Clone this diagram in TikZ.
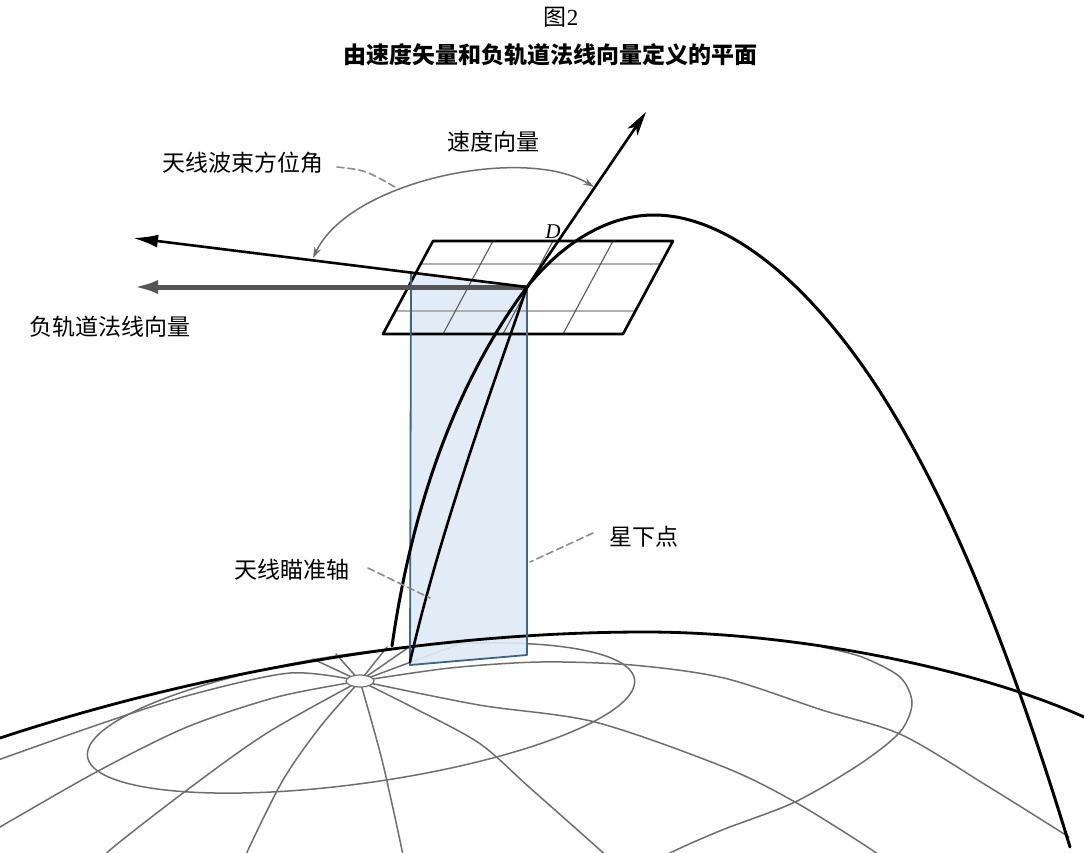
\documentclass[tikz,border=0pt]{standalone}
\usepackage{fontspec}
\setmainfont{Liberation Serif}
\newfontfamily\cjk{Noto Sans CJK SC}
\usetikzlibrary{arrows.meta,calc}
\definecolor{planefill}{RGB}{222,234,246}
\definecolor{planeedge}{RGB}{62,100,140}
\definecolor{gridgray}{RGB}{175,175,175}
\definecolor{gridline}{RGB}{90,90,90}
\definecolor{globegray}{RGB}{110,110,110}
\definecolor{normalgray}{RGB}{85,85,85}
\definecolor{leadergray}{RGB}{140,140,140}
\tikzset{
  globeline/.style={globegray, line width=1.5pt},
  horizonline/.style={black, line width=2.8pt},
  orbitline/.style={black, line width=3pt},
  platerow/.style={gridgray, line width=2pt},
  platecol/.style={gridline, line width=1.1pt},
  plateedge/.style={black, line width=2.6pt},
  vecline/.style={black, line width=2.6pt},
  leaderline/.style={leadergray, line width=1.6pt, dash pattern=on 7pt off 4pt},
  anglearc/.style={globegray, line width=1.5pt, {Stealth[length=11pt,width=7pt]}-{Stealth[length=11pt,width=7pt]}},
  lbl/.style={font=\cjk\fontsize{23}{23}\selectfont, inner sep=0pt}
}
\begin{document}
\begin{tikzpicture}[x=1pt,y=-1pt,line join=round,line cap=round]
\useasboundingbox (0,0) rectangle (1084,852);
\coordinate (S) at (527,287);
\coordinate (P) at (360,681);
\begin{scope}
\clip (0,0) rectangle (1084,852);
% globe: meridians
\draw[globeline] plot[smooth] coordinates {(360,681) (277,697) (187,727) (100,770) (12,820) (-10,833)};
\draw[globeline] plot[smooth] coordinates {(360,681) (267,733) (187,790) (110,850) (104,862)};
\draw[globeline] plot[smooth] coordinates {(360,681) (320,727) (283,780) (248,850) (244,862)};
\draw[globeline] plot[smooth] coordinates {(360,681) (382,760) (402,850) (404,862)};
\draw[globeline] plot[smooth] coordinates {(360,681) (412,707) (479,743) (529,787) (600,850) (612,862)};
\draw[globeline] plot[smooth] coordinates {(360,681) (479,705) (595,722) (724,767) (795,802) (872,850) (884,862)};
\draw[globeline] plot[smooth] coordinates {(360,681) (450,668) (540,662) (632,665) (724,678) (822,710) (902,735) (989,787) (1069,837)};
\draw[globeline] plot[smooth] coordinates {(360,681) (290,673) (190,695) (100,724) (12,755) (-10,763)};
\foreach \ex/\ey in {313/659, 336/654, 387/647, 412/645, 470/640}
  \draw[globeline] (P) -- (\ex,\ey);
% latitude circles
\draw[globeline] plot[domain=0:360, samples=120, smooth]
  ({361+276*cos(\x)*0.991-65*sin(\x)*0.14},{718-276*cos(\x)*0.14-65*sin(\x)*0.991});
\draw[globeline] plot[smooth] coordinates {(822,647) (862,657) (900,677) (912,703) (900,732) (860,764) (795,802) (722,830) (672,852) (640,870)};
% pole
\draw[globegray, line width=1.2pt, fill=white] (P) ellipse [x radius=14, y radius=6];
\end{scope}
% plate background
\coordinate (TL) at (433,241);
\coordinate (TR) at (673,241);
\coordinate (BR) at (623,334);
\coordinate (BL) at (383,334);
\fill[white] (TL) -- (TR) -- (BR) -- (BL) -- cycle;
% plane of velocity / normal
\coordinate (PA) at (411,272);
\coordinate (PB) at (527,655);
\coordinate (PC) at (410,665);
\fill[planefill, fill opacity=0.9] (PA) -- (S) -- (PB) -- (PC) -- cycle;
% plate grid
\foreach \t in {0.25,0.75}
  \draw[platerow] ($(TL)!\t!(BL)$) -- ($(TR)!\t!(BR)$);
\foreach \t in {0.25,0.5,0.75}
  \draw[platecol] ($(TL)!\t!(TR)$) -- ($(BL)!\t!(BR)$);
\draw[plateedge] (TL) -- (TR) -- (BR) -- (BL) -- cycle;
% horizon
\coordinate (H0) at (0,738);
\coordinate (HM) at (645,632);
\coordinate (H1) at (1084,717);
\begin{scope}
\clip (0,0) rectangle (1084,852);
\draw[horizonline] ($(H0)+(-20,7)$) -- (H0) .. controls (200,672) and (430,632) .. (HM)
  .. controls (800,632) and (980,670) .. (H1) -- ++(20,10);
\end{scope}
% plane edges
\draw[planeedge, line width=1.8pt] (PA) -- (PC) -- (PB) -- (S);
% negative orbit normal
\coordinate (N) at (133,287);
\draw[normalgray, line width=5pt, line cap=butt, -{Latex[length=25pt,width=14pt]}] (S) -- (N);
% beam direction
\coordinate (B) at (133,238);
\draw[vecline, line cap=butt, -{Latex[length=25pt,width=13pt]}] (S) -- (B);
% velocity
\coordinate (V) at (646,112);
\draw[vecline, line cap=butt, -{Stealth[length=24pt,width=12pt,inset=6pt]}] (S) -- (V);
% orbit
\coordinate (G1) at (392,646);
\coordinate (Top) at (654,215);
\coordinate (R1) at (877,387);
\coordinate (G2) at (1070,847);
\draw[orbitline] (G1) .. controls (410,520) and (450,390) .. (S)
  .. controls (565,240) and (610,215) .. (Top)
  .. controls (720,215) and (800,270) .. (R1)
  .. controls (950,500) and (1010,650) .. (G2);
% boresight
\coordinate (BS) at (410,662);
\draw[vecline] (S) .. controls (495,380) and (440,530) .. (BS);
% azimuth angle arc
\coordinate (A1) at (313,258);
\coordinate (A2) at (594,187);
\draw[anglearc] (A1) .. controls (350,180) and (525,145) .. (A2);
% labels
\node[font=\fontsize{23}{23}\selectfont, inner sep=0pt] (fig) at (561,17) {{\cjk 图}2};
\node[lbl, font=\cjk\bfseries\fontsize{23}{23}\selectfont] (title) at (550,55) {由速度矢量和负轨道法线向量定义的平面};
\node[lbl] (vel) at (493,142) {速度向量};
\node[lbl] (az) at (243,163) {天线波束方位角};
\node[lbl] (neg) at (110,327) {负轨道法线向量};
\node[lbl] (sub) at (644,537) {星下点};
\node[lbl] (bore) at (292,570) {天线瞄准轴};
\node[font=\itshape\fontsize{21}{21}\selectfont, inner sep=0pt] (D) at (553,232) {D};
% leaders
\coordinate (azL) at (337,167);
\coordinate (azE) at (395,187);
\draw[leaderline] (azL) .. controls (365,170) .. (azE);
\coordinate (subL) at (593,533);
\coordinate (subE) at (530,562);
\draw[leaderline] (subL) -- (subE);
\coordinate (boreL) at (368,568);
\coordinate (boreE) at (430,598);
\draw[leaderline] (boreL) -- (boreE);
\end{tikzpicture}
\end{document}
